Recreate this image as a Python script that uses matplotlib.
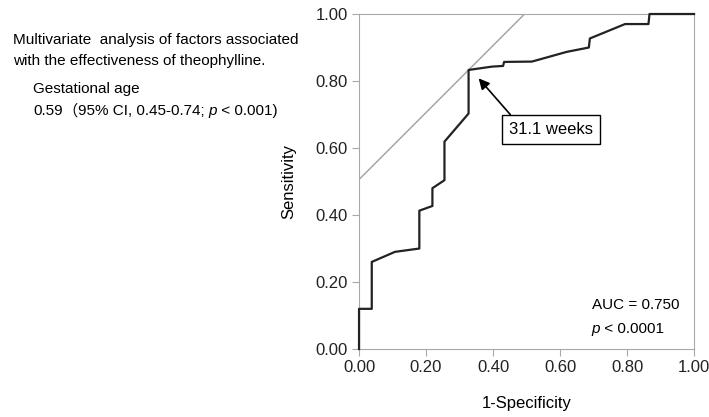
import numpy as np
import matplotlib.pyplot as plt

plt.rcParams['font.family'] = ['Liberation Sans', 'Noto Sans CJK JP', 'DejaVu Sans']

# ROC curve points
fpr = [0.0, 0.0, 0.038, 0.038, 0.107, 0.18, 0.18, 0.219, 0.219, 0.255, 0.255,
       0.327, 0.327, 0.397, 0.43, 0.433, 0.516, 0.62, 0.686, 0.689, 0.794,
       0.864, 0.867, 1.0]
tpr = [0.0, 0.12, 0.12, 0.26, 0.29, 0.30, 0.413, 0.427, 0.48, 0.504, 0.619,
       0.703, 0.833, 0.843, 0.845, 0.857, 0.858, 0.887, 0.90, 0.927, 0.97,
       0.97, 1.0, 1.0]
cut_x, cut_y = 0.327, 0.833
cut_label = "31.1 weeks"
ticks = [0.0, 0.2, 0.4, 0.6, 0.8, 1.0]

W, H = 709, 417
fig = plt.figure(figsize=(W / 100, H / 100), dpi=100)
ax = fig.add_axes([0.5064, 0.163, 0.4725, 0.8034])
r = fig.canvas.get_renderer()

# tangent line at the cut-off (Youden index)
off = cut_y - cut_x
xs = np.array([0.0, 1.0 - off])
ax.plot(xs, xs + off, color='#a8a8a8', lw=1.1)
ax.plot(fpr, tpr, color='#222222', lw=1.6, clip_on=False, zorder=3)

ax.annotate(cut_label, xy=(cut_x + 0.03, cut_y - 0.025), xytext=(0.574, 0.655),
            ha='center', va='center', fontsize=12,
            bbox=dict(boxstyle='square,pad=0.42', fc='white', ec='black', lw=1),
            arrowprops=dict(arrowstyle='-|>', color='black', lw=1.2,
                            mutation_scale=16, shrinkA=0, shrinkB=0,
                            relpos=(0.09, 1.0)))


def text_run(x, y, pieces, transform, **kw):
    # draws pieces of one line left to right, each with its own style
    for s, extra in pieces:
        t = fig.text(x, y, s, transform=transform, **kw, **extra)
        bb = t.get_window_extent(renderer=r)
        x = transform.inverted().transform((bb.x1, bb.y0))[0]


ax.text(0.695, 0.13, "AUC = 0.750", fontsize=11, va='center')
text_run(0.695, 0.06, [("p", {'style': 'italic'}), (" < 0.0001", {})],
         ax.transAxes, fontsize=11, va='center')

ax.set_xlim(0, 1)
ax.set_ylim(0, 1)
ax.set_xticks(ticks)
ax.set_yticks(ticks)
ax.set_xticklabels(["%.2f" % t for t in ticks])
ax.set_yticklabels(["%.2f" % t for t in ticks])
for s in ax.spines.values():
    s.set_color('#a8a8a8')
ax.tick_params(direction='out', length=5, color='#a8a8a8', labelsize=12,
               labelcolor='#222222', pad=3)
ax.set_xlabel("1-Specificity", fontsize=12, labelpad=15)
ax.set_ylabel("Sensitivity", fontsize=12, labelpad=14)

fig.text(13 / W, 1 - 40 / H, "Multivariate  analysis of factors associated",
         fontsize=11, va='center')
fig.text(13 / W, 1 - 61 / H, "with the effectiveness of theophylline.",
         fontsize=11, va='center')
fig.text(33 / W, 1 - 89 / H, "Gestational age", fontsize=11, va='center')

# last line: italic p and a full-width parenthesis
pieces = [("0.59", {}), ("（", {'family': ['Noto Sans CJK JP']}),
          ("95% CI, 0.45-0.74; ", {}), ("p", {'style': 'italic'}),
          (" < 0.001)", {})]
text_run(33 / W, 1 - 111 / H, pieces, fig.transFigure, fontsize=11, va='center')

fig.savefig("out.png", dpi=100)
